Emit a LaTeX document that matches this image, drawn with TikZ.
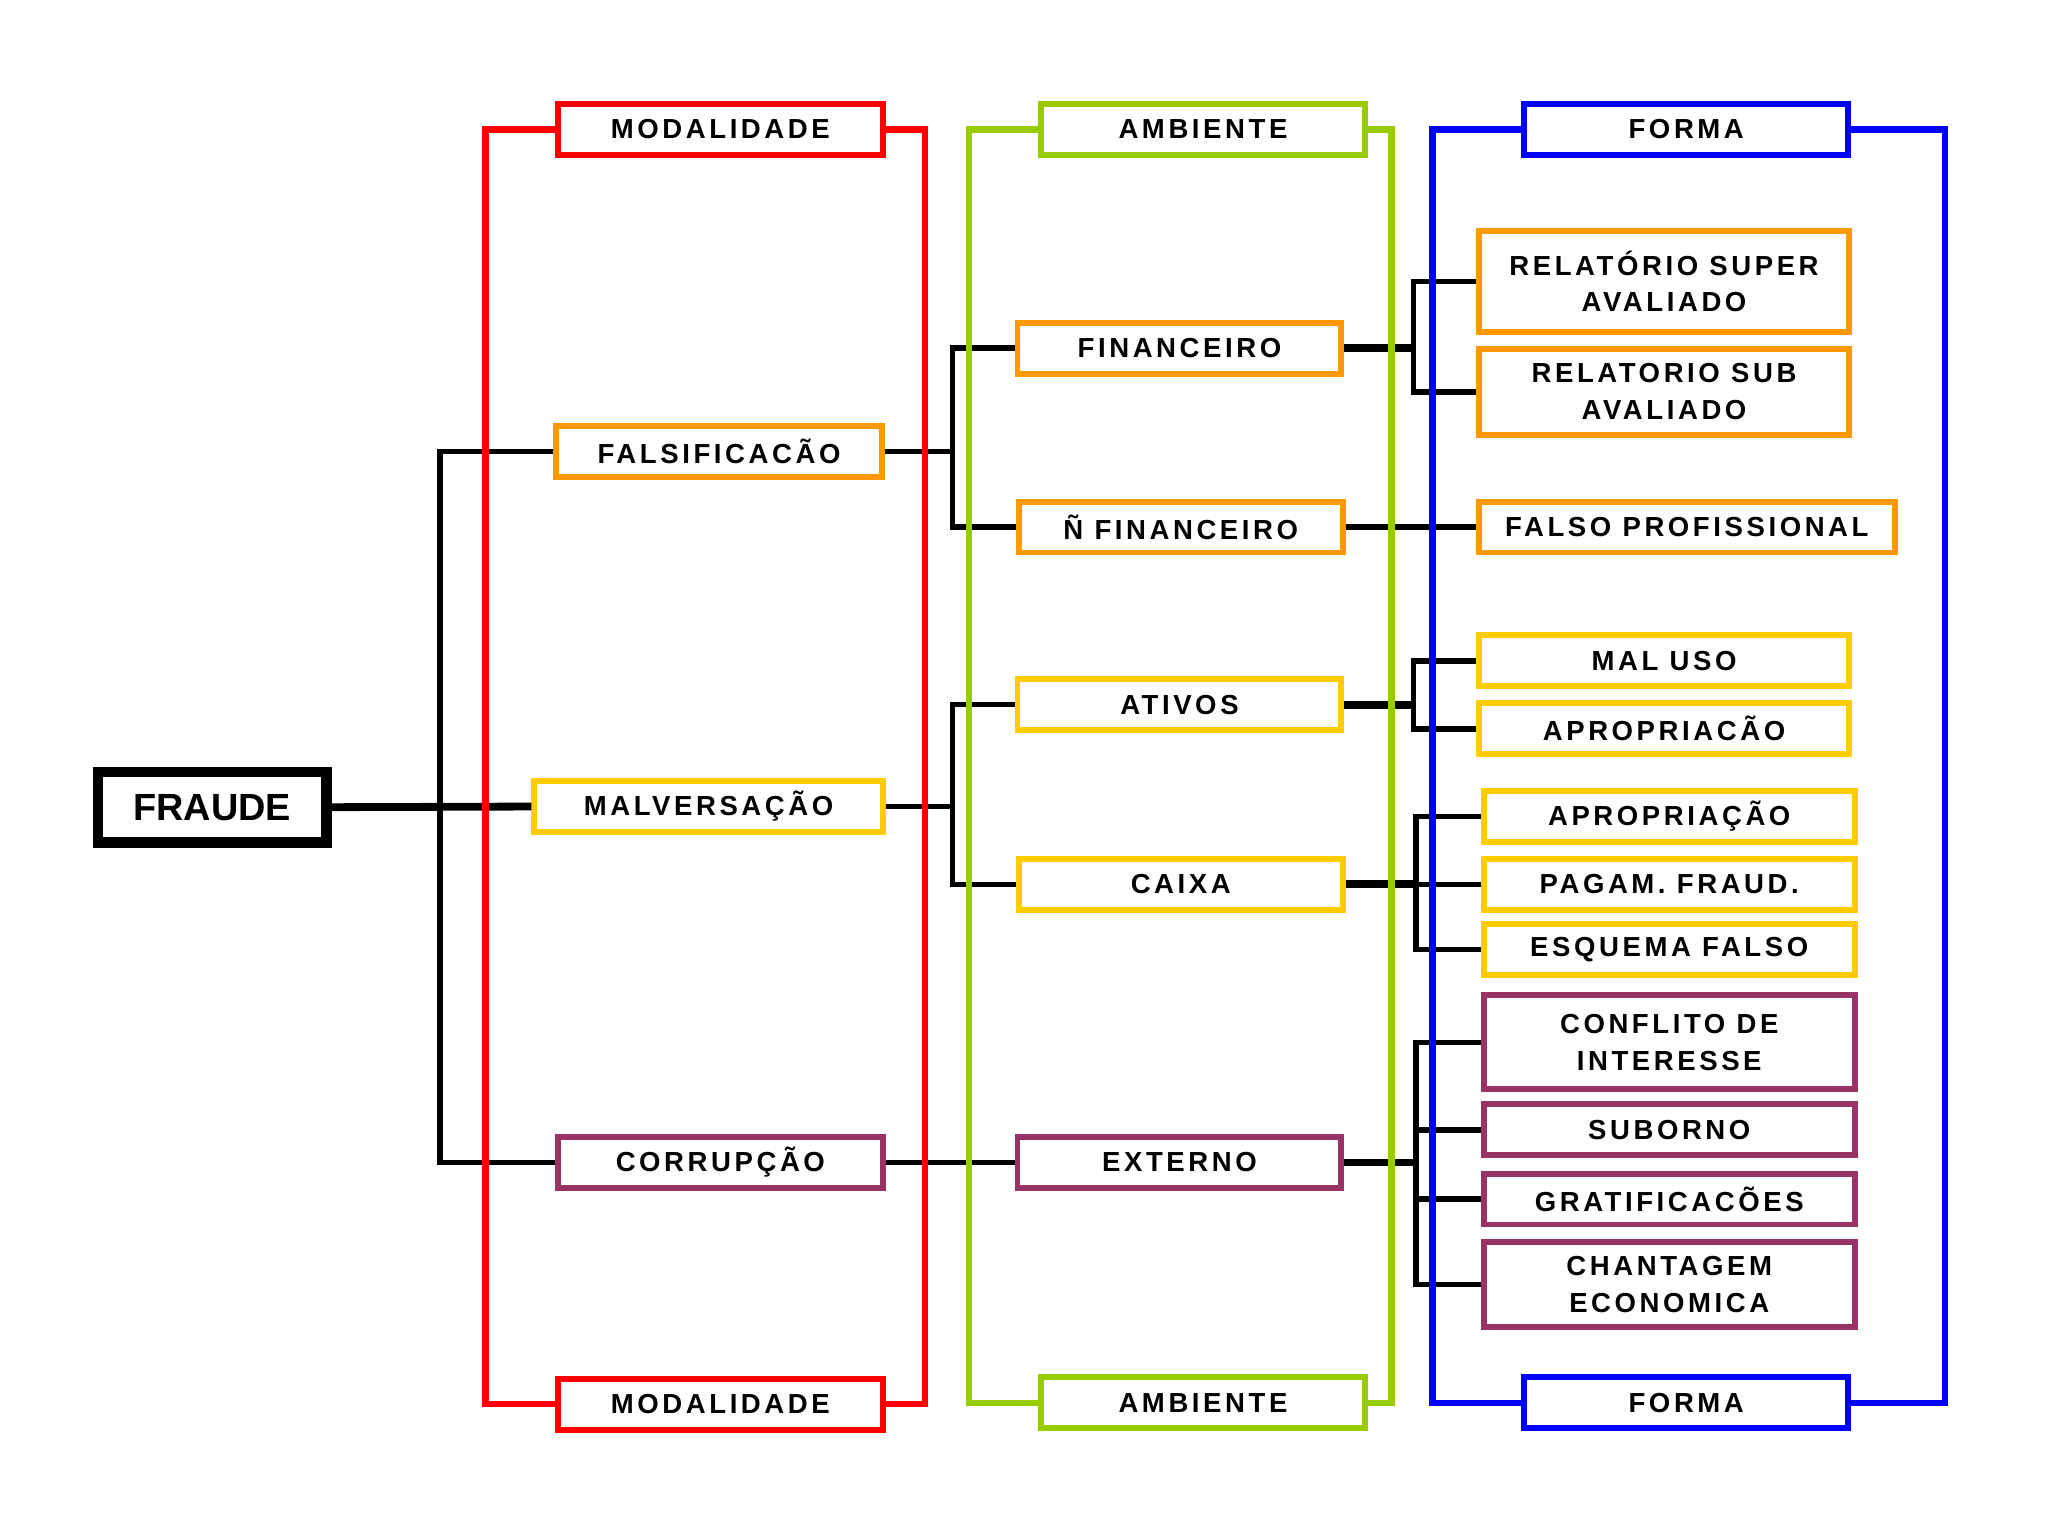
\documentclass[tikz,border=0pt]{standalone}
\usepackage{fontspec}
\setmainfont{Liberation Sans}
\newfontfamily\boxfont{Liberation Sans}[LetterSpace=13]

\definecolor{framered}{HTML}{FF0000}
\definecolor{framegreen}{HTML}{99CC00}
\definecolor{frameblue}{HTML}{0000FF}
\definecolor{boxorange}{HTML}{FF9900}
\definecolor{boxyellow}{HTML}{FFCC00}
\definecolor{boxpurple}{HTML}{993366}

\begin{document}
\begin{tikzpicture}[x=0.02cm,y=-0.02cm,
  box/.style={draw,line width=2.6pt,fill=white,minimum height=0.78cm,inner sep=2pt,align=center,
    font=\boxfont\bfseries\fontsize{12}{16}\selectfont},
  modbox/.style={box,minimum width=4.98cm},
  ambbox/.style={box,minimum width=4.96cm},
  formbox/.style={box,minimum width=5.68cm},
  link/.style={draw,line width=2.4pt,black},
  trunk/.style={draw,line width=3.4pt,black},
  frame/.style={draw,line width=2.8pt}]
\useasboundingbox (0,0) rectangle (1568,1176);

% The root
\node (fraude) at (162.5,618) [draw,line width=4.5pt,fill=white,minimum width=3.5cm,minimum height=1.08cm,
  font=\bfseries\fontsize{16.5}{18}\selectfont] {FRAUDE};

% Headers and footers
\node (modtop) at (551.5,99) [modbox,draw=framered] {MODALIDADE};
\node (modbot) at (551.5,1075) [modbox,draw=framered] {MODALIDADE};
\node (ambtop) at (921,99) [ambbox,draw=framegreen] {AMBIENTE};
\node (ambbot) at (921,1074) [ambbox,draw=framegreen] {AMBIENTE};
\node (formtop) at (1291,99) [ambbox,draw=frameblue] {FORMA};
\node (formbot) at (1291,1074) [ambbox,draw=frameblue] {FORMA};

% Modalidade
\node (fals) at (550.5,345.5) [modbox,draw=boxorange] {FALSIFICACÃO};
\node (malv) at (542.5,617.5) [modbox,draw=boxyellow,minimum width=5.34cm] {MALVERSAÇÃO};
\node (corr) at (551.5,890) [modbox,draw=boxpurple] {CORRUPÇÃO};

% Ambiente
\node (fin) at (903,266.5) [ambbox,draw=boxorange] {FINANCEIRO};
\node (nfin) at (904,403.5) [ambbox,draw=boxorange] {Ñ FINANCEIRO};
\node (ativos) at (903,539.5) [ambbox,draw=boxyellow] {ATIVOS};
\node (caixa) at (904,677) [ambbox,draw=boxyellow] {CAIXA};
\node (ext) at (903,890) [ambbox,draw=boxpurple] {EXTERNO};

% Forma
\node (super) at (1274,215.5) [formbox,draw=boxorange,minimum height=1.54cm] {RELATÓRIO SUPER\\AVALIADO};
\node (sub) at (1274,300) [formbox,draw=boxorange,minimum height=1.32cm] {RELATORIO SUB\\AVALIADO};
\node (falso) at (1291.5,403.5) [formbox,draw=boxorange,minimum width=6.38cm] {FALSO PROFISSIONAL};
\node (maluso) at (1274,506) [formbox,draw=boxyellow] {MAL USO};
\node (aproa) at (1274,558) [formbox,draw=boxyellow] {APROPRIACÃO};
\node (aprob) at (1278,625) [formbox,draw=boxyellow] {APROPRIAÇÃO};
\node (pagam) at (1278,677) [formbox,draw=boxyellow] {PAGAM. FRAUD.};
\node (esquema) at (1278,727) [formbox,draw=boxyellow] {ESQUEMA FALSO};
\node (conflito) at (1278,798) [formbox,draw=boxpurple,minimum height=1.44cm] {CONFLITO DE\\INTERESSE};
\node (suborno) at (1278,865) [formbox,draw=boxpurple] {SUBORNO};
\node (gratif) at (1278,918) [formbox,draw=boxpurple] {GRATIFICACÕES};
\node (chant) at (1278,983.5) [formbox,draw=boxpurple,minimum height=1.30cm] {CHANTAGEM\\ECONOMICA};

% Links from the root
\draw[trunk] (fraude.east) -- (malv.west);
\draw[link] (fals.west) -- ++(-87,0) |- (corr.west);

% Links to ambiente
\draw[link] (fals.east) -- ++(52,0) coordinate(jfals);
\draw[link] (fin.west) -| (jfals) |- (nfin.west);
\draw[link] (malv.east) -- ++(51,0) coordinate(jmalv);
\draw[link] (ativos.west) -| (jmalv) |- (caixa.west);
\draw[link] (corr.east) -- (ext.west);

% Links to forma
\draw[trunk] (fin.east) -- ++(53,0) coordinate(jfin);
\draw[link] (super.west) -| (jfin) |- (sub.west);
\draw[link] (nfin.east) -- (falso.west);
\draw[trunk] (ativos.east) -- ++(53,0) coordinate(jativos);
\draw[link] (maluso.west) -| (jativos) |- (aproa.west);
\draw[trunk] (caixa.east) -- ++(54,0) coordinate(jcaixa);
\draw[link] (aprob.west) -| (jcaixa) |- (esquema.west);
\draw[link] (jcaixa) -- (pagam.west);
\draw[trunk] (ext.east) -- ++(55,0) coordinate(jext);
\draw[link] (conflito.west) -| (jext) |- (chant.west);
\draw[link] (jext |- suborno.west) -- (suborno.west);
\draw[link] (jext |- gratif.west) -- (gratif.west);

% The frames
\draw[frame,framered] (modtop.west) -- ++(-53,0) |- (modbot.west);
\draw[frame,framered] (modtop.east) -- ++(30,0) |- (modbot.east);
\draw[frame,framegreen] (ambtop.west) -- ++(-53,0) |- (ambbot.west);
\draw[frame,framegreen] (ambtop.east) -- ++(18,0) |- (ambbot.east);
\draw[frame,frameblue] (formtop.west) -- ++(-68,0) |- (formbot.west);
\draw[frame,frameblue] (formtop.east) -- ++(72,0) |- (formbot.east);

\end{tikzpicture}
\end{document}
